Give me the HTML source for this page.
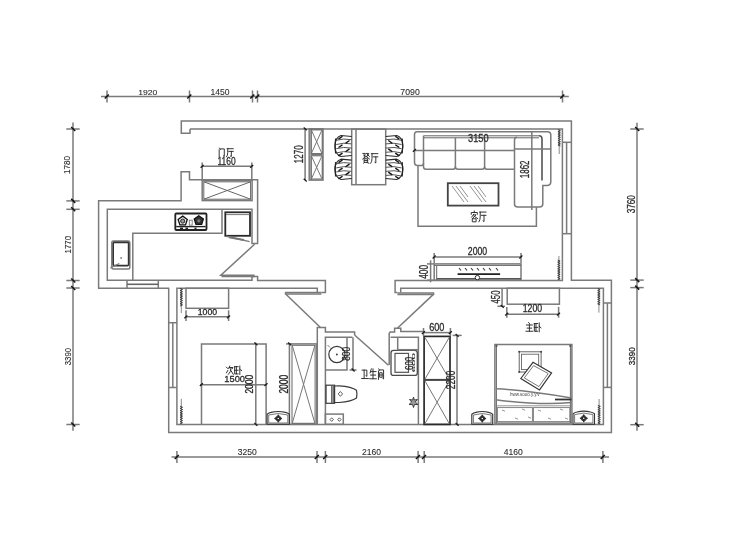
<!DOCTYPE html>
<html><head><meta charset="utf-8"><style>
html,body{margin:0;padding:0;background:#fff;}
body{width:740px;height:555px;overflow:hidden;position:relative;}
svg{position:absolute;left:0;top:0;filter:grayscale(1);}
text{font-family:"Liberation Sans",sans-serif;}
</style></head><body>
<svg width="740" height="555" viewBox="0 0 740 555">
<rect x="0" y="0" width="740" height="555" fill="#fff"/>
<line x1="101" y1="96.5" x2="568.8" y2="96.5" stroke="#7a7a7a" stroke-width="1.5"/>
<line x1="107" y1="90.5" x2="107" y2="102.5" stroke="#7a7a7a" stroke-width="1.5"/>
<line x1="104.8" y1="98.5" x2="108.8" y2="94.5" stroke="#111" stroke-width="1.5"/>
<line x1="189.5" y1="90.5" x2="189.5" y2="102.5" stroke="#7a7a7a" stroke-width="1.5"/>
<line x1="187.3" y1="98.5" x2="191.3" y2="94.5" stroke="#111" stroke-width="1.5"/>
<line x1="252.5" y1="90.5" x2="252.5" y2="102.5" stroke="#7a7a7a" stroke-width="1.5"/>
<line x1="250.3" y1="98.5" x2="254.3" y2="94.5" stroke="#111" stroke-width="1.5"/>
<line x1="257.5" y1="90.5" x2="257.5" y2="102.5" stroke="#7a7a7a" stroke-width="1.5"/>
<line x1="255.3" y1="98.5" x2="259.3" y2="94.5" stroke="#111" stroke-width="1.5"/>
<line x1="562.5" y1="90.5" x2="562.5" y2="102.5" stroke="#7a7a7a" stroke-width="1.5"/>
<line x1="560.3" y1="98.5" x2="564.3" y2="94.5" stroke="#111" stroke-width="1.5"/>
<line x1="73" y1="122.6" x2="73" y2="430.8" stroke="#7a7a7a" stroke-width="1.5"/>
<line x1="66.3" y1="129" x2="79.7" y2="129" stroke="#7a7a7a" stroke-width="1.5"/>
<line x1="71.2" y1="127.0" x2="75.2" y2="131.0" stroke="#111" stroke-width="1.5"/>
<line x1="66.3" y1="200.9" x2="79.7" y2="200.9" stroke="#7a7a7a" stroke-width="1.5"/>
<line x1="71.2" y1="198.9" x2="75.2" y2="202.9" stroke="#111" stroke-width="1.5"/>
<line x1="66.3" y1="209.3" x2="79.7" y2="209.3" stroke="#7a7a7a" stroke-width="1.5"/>
<line x1="71.2" y1="207.3" x2="75.2" y2="211.3" stroke="#111" stroke-width="1.5"/>
<line x1="66.3" y1="280.5" x2="79.7" y2="280.5" stroke="#7a7a7a" stroke-width="1.5"/>
<line x1="71.2" y1="278.5" x2="75.2" y2="282.5" stroke="#111" stroke-width="1.5"/>
<line x1="66.3" y1="288" x2="79.7" y2="288" stroke="#7a7a7a" stroke-width="1.5"/>
<line x1="71.2" y1="286.0" x2="75.2" y2="290.0" stroke="#111" stroke-width="1.5"/>
<line x1="66.3" y1="424.5" x2="79.7" y2="424.5" stroke="#7a7a7a" stroke-width="1.5"/>
<line x1="71.2" y1="422.5" x2="75.2" y2="426.5" stroke="#111" stroke-width="1.5"/>
<line x1="637" y1="122.8" x2="637" y2="430.8" stroke="#7a7a7a" stroke-width="1.5"/>
<line x1="630.3" y1="129" x2="643.7" y2="129" stroke="#7a7a7a" stroke-width="1.5"/>
<line x1="635.2" y1="127.0" x2="639.2" y2="131.0" stroke="#111" stroke-width="1.5"/>
<line x1="630.3" y1="280.1" x2="643.7" y2="280.1" stroke="#7a7a7a" stroke-width="1.5"/>
<line x1="635.2" y1="278.1" x2="639.2" y2="282.1" stroke="#111" stroke-width="1.5"/>
<line x1="630.3" y1="287.6" x2="643.7" y2="287.6" stroke="#7a7a7a" stroke-width="1.5"/>
<line x1="635.2" y1="285.6" x2="639.2" y2="289.6" stroke="#111" stroke-width="1.5"/>
<line x1="630.3" y1="424.7" x2="643.7" y2="424.7" stroke="#7a7a7a" stroke-width="1.5"/>
<line x1="635.2" y1="422.7" x2="639.2" y2="426.7" stroke="#111" stroke-width="1.5"/>
<line x1="171.5" y1="457" x2="609" y2="457" stroke="#7a7a7a" stroke-width="1.5"/>
<line x1="176.9" y1="451" x2="176.9" y2="463" stroke="#7a7a7a" stroke-width="1.5"/>
<line x1="174.70000000000002" y1="459.0" x2="178.70000000000002" y2="455.0" stroke="#111" stroke-width="1.5"/>
<line x1="317" y1="451" x2="317" y2="463" stroke="#7a7a7a" stroke-width="1.5"/>
<line x1="314.8" y1="459.0" x2="318.8" y2="455.0" stroke="#111" stroke-width="1.5"/>
<line x1="325.4" y1="451" x2="325.4" y2="463" stroke="#7a7a7a" stroke-width="1.5"/>
<line x1="323.2" y1="459.0" x2="327.2" y2="455.0" stroke="#111" stroke-width="1.5"/>
<line x1="418.1" y1="451" x2="418.1" y2="463" stroke="#7a7a7a" stroke-width="1.5"/>
<line x1="415.90000000000003" y1="459.0" x2="419.90000000000003" y2="455.0" stroke="#111" stroke-width="1.5"/>
<line x1="424.2" y1="451" x2="424.2" y2="463" stroke="#7a7a7a" stroke-width="1.5"/>
<line x1="422.0" y1="459.0" x2="426.0" y2="455.0" stroke="#111" stroke-width="1.5"/>
<line x1="602.9" y1="451" x2="602.9" y2="463" stroke="#7a7a7a" stroke-width="1.5"/>
<line x1="600.6999999999999" y1="459.0" x2="604.6999999999999" y2="455.0" stroke="#111" stroke-width="1.5"/>
<text transform="translate(138.90,94.90) scale(1.071,1)" x="-0.61" y="0" font-size="8.05" fill="#2a2a2a" stroke="#2a2a2a" stroke-width="0.08" font-weight="normal">1920</text>
<text transform="translate(211.10,95.10) scale(1.012,1)" x="-0.64" y="0" font-size="8.47" fill="#2a2a2a" stroke="#2a2a2a" stroke-width="0.08" font-weight="normal">1450</text>
<text transform="translate(400.80,95.10) scale(1.029,1)" x="-0.43" y="0" font-size="8.47" fill="#2a2a2a" stroke="#2a2a2a" stroke-width="0.08" font-weight="normal">7090</text>
<text transform="translate(70.40,173.30) rotate(-90) scale(0.941,1)" x="-0.65" y="0" font-size="8.62" fill="#2a2a2a" stroke="#2a2a2a" stroke-width="0.08" font-weight="normal">1780</text>
<text transform="translate(70.50,252.90) rotate(-90) scale(0.889,1)" x="-0.68" y="0" font-size="8.90" fill="#2a2a2a" stroke="#2a2a2a" stroke-width="0.08" font-weight="normal">1770</text>
<text transform="translate(70.50,364.90) rotate(-90) scale(0.821,1)" x="-0.36" y="0" font-size="9.46" fill="#2a2a2a" stroke="#2a2a2a" stroke-width="0.08" font-weight="normal">3390</text>
<text transform="translate(635.20,213.00) rotate(-90) scale(0.795,1)" x="-0.39" y="0" font-size="10.31" fill="#2a2a2a" stroke="#2a2a2a" stroke-width="0.3" font-weight="normal">3760</text>
<text transform="translate(634.80,364.90) rotate(-90) scale(0.827,1)" x="-0.37" y="0" font-size="9.75" fill="#2a2a2a" stroke="#2a2a2a" stroke-width="0.3" font-weight="normal">3390</text>
<text transform="translate(238.10,455.40) scale(1.029,1)" x="-0.32" y="0" font-size="8.33" fill="#2a2a2a" stroke="#2a2a2a" stroke-width="0.08" font-weight="normal">3250</text>
<text transform="translate(362.30,455.40) scale(0.934,1)" x="-0.46" y="0" font-size="9.18" fill="#2a2a2a" stroke="#2a2a2a" stroke-width="0.08" font-weight="normal">2160</text>
<text transform="translate(503.90,455.40) scale(0.964,1)" x="-0.20" y="0" font-size="8.90" fill="#2a2a2a" stroke="#2a2a2a" stroke-width="0.08" font-weight="normal">4160</text>
<path d="M190,129 V133.3 H181.3 V120.9 H571.4 V280.2 H611.4 V432.4 H168.7 V288.2 H98.6 V200.8 H181.1 V171.8 H189.5 V179.8 H257.6 V243.5 H252 V209.3 H107.3 V280.3 H252 V276.6 H257.6 V280.5 H325.4 V292.6 H321.4" stroke="#7a7a7a" stroke-width="1.5" fill="none" />
<path d="M190,129 H562.4 V280.4 H395.1 V292.5 H397.4" stroke="#7a7a7a" stroke-width="1.5" fill="none" />
<path d="M400.7,292.5 V288.3 H603.4 V424.5 H176.9 V288.3 H317.3 V292.6" stroke="#7a7a7a" stroke-width="1.5" fill="none" />
<line x1="127" y1="280.3" x2="127" y2="288.2" stroke="#7a7a7a" stroke-width="1.5"/>
<line x1="158.3" y1="280.3" x2="158.3" y2="288.2" stroke="#7a7a7a" stroke-width="1.5"/>
<line x1="127" y1="284.3" x2="158.3" y2="284.3" stroke="#666" stroke-width="1.6"/>
<line x1="168.7" y1="322.7" x2="176.9" y2="322.7" stroke="#7a7a7a" stroke-width="1.5"/>
<line x1="168.7" y1="387.5" x2="176.9" y2="387.5" stroke="#7a7a7a" stroke-width="1.5"/>
<line x1="172.8" y1="322.7" x2="172.8" y2="387.5" stroke="#7a7a7a" stroke-width="1.5"/>
<line x1="562.4" y1="142.3" x2="571.4" y2="142.3" stroke="#7a7a7a" stroke-width="1.5"/>
<line x1="562.4" y1="233.7" x2="571.4" y2="233.7" stroke="#7a7a7a" stroke-width="1.5"/>
<line x1="566.6" y1="142.3" x2="566.6" y2="233.7" stroke="#7a7a7a" stroke-width="1.5"/>
<line x1="603.4" y1="303" x2="611.4" y2="303" stroke="#7a7a7a" stroke-width="1.5"/>
<line x1="603.4" y1="387.4" x2="611.4" y2="387.4" stroke="#7a7a7a" stroke-width="1.5"/>
<line x1="607.4" y1="303" x2="607.4" y2="387.4" stroke="#7a7a7a" stroke-width="1.5"/>
<path d="M317.3,424.5 V327.6 H325.4 V331.9 H354.6 V335" stroke="#7a7a7a" stroke-width="1.5" fill="none" />
<path d="M325.4,424.5 V337.3 H352.4" stroke="#7a7a7a" stroke-width="1.5" fill="none" />
<path d="M389.2,365 V333.5 L390.2,331.9 H394.6 V328.2 H400.8 V331.6 H424.5" stroke="#7a7a7a" stroke-width="1.5" fill="none" />
<path d="M390.6,337.3 H418.4 V424.5" stroke="#7a7a7a" stroke-width="1.5" fill="none" />
<line x1="397.7" y1="337.3" x2="397.7" y2="349.7" stroke="#7a7a7a" stroke-width="1.5"/>
<path d="M254.6,244.2 L220.8,275.3 H254.6" stroke="#7a7a7a" stroke-width="1.5" fill="none" />
<line x1="221.5" y1="276.4" x2="254.6" y2="276.4" stroke="#7a7a7a" stroke-width="1.5"/>
<path d="M284.9,293.3 L320.2,327.2" stroke="#7a7a7a" stroke-width="1.5" fill="none" />
<line x1="284.9" y1="292.6" x2="321.4" y2="292.6" stroke="#7a7a7a" stroke-width="1.5"/>
<line x1="285.5" y1="294" x2="321.4" y2="294" stroke="#7a7a7a" stroke-width="1.5"/>
<path d="M434.2,293.6 L397.4,328.2" stroke="#7a7a7a" stroke-width="1.5" fill="none" />
<line x1="397.4" y1="293" x2="434.2" y2="293" stroke="#7a7a7a" stroke-width="1.5"/>
<line x1="397.4" y1="294.5" x2="433.5" y2="294.5" stroke="#7a7a7a" stroke-width="1.5"/>
<path d="M354.6,335 L388.5,365.3" stroke="#7a7a7a" stroke-width="1.5" fill="none" />
<line x1="559.2" y1="129.2" x2="559.2" y2="154" stroke="#7a7a7a" stroke-width="0.9"/>
<polyline points="557.95,129.60 560.45,130.70 557.95,131.80 560.45,132.90 557.95,134.00 560.45,135.10 557.95,136.20 560.45,137.30 557.95,138.40 560.45,139.50 557.95,140.60 560.45,141.70 557.95,142.80 560.45,143.90 557.95,145.00 560.45,146.10" stroke="#333" stroke-width="0.9" fill="none"/>
<line x1="181.3" y1="288.4" x2="181.3" y2="313" stroke="#7a7a7a" stroke-width="0.9"/>
<polyline points="180.05,288.40 182.55,289.50 180.05,290.60 182.55,291.70 180.05,292.80 182.55,293.90 180.05,295.00 182.55,296.10 180.05,297.20 182.55,298.30 180.05,299.40 182.55,300.50 180.05,301.60 182.55,302.70 180.05,303.80 182.55,304.90 180.05,306.00" stroke="#333" stroke-width="0.9" fill="none"/>
<line x1="181.3" y1="398.8" x2="181.3" y2="423.8" stroke="#7a7a7a" stroke-width="0.9"/>
<polyline points="180.05,406.20 182.55,407.30 180.05,408.40 182.55,409.50 180.05,410.60 182.55,411.70 180.05,412.80 182.55,413.90 180.05,415.00 182.55,416.10 180.05,417.20 182.55,418.30 180.05,419.40 182.55,420.50 180.05,421.60 182.55,422.70 180.05,423.80" stroke="#333" stroke-width="0.9" fill="none"/>
<line x1="558.9" y1="256" x2="558.9" y2="280" stroke="#7a7a7a" stroke-width="0.9"/>
<polyline points="557.65,260.00 560.15,261.10 557.65,262.20 560.15,263.30 557.65,264.40 560.15,265.50 557.65,266.60 560.15,267.70 557.65,268.80 560.15,269.90 557.65,271.00 560.15,272.10 557.65,273.20 560.15,274.30 557.65,275.40 560.15,276.50 557.65,277.60 560.15,278.70 557.65,279.80" stroke="#333" stroke-width="0.9" fill="none"/>
<line x1="598.9" y1="288.4" x2="598.9" y2="312.6" stroke="#7a7a7a" stroke-width="0.9"/>
<polyline points="597.65,288.40 600.15,289.50 597.65,290.60 600.15,291.70 597.65,292.80 600.15,293.90 597.65,295.00 600.15,296.10 597.65,297.20 600.15,298.30 597.65,299.40 600.15,300.50 597.65,301.60 600.15,302.70 597.65,303.80 600.15,304.90" stroke="#333" stroke-width="0.9" fill="none"/>
<line x1="599.1" y1="399" x2="599.1" y2="424.2" stroke="#7a7a7a" stroke-width="0.9"/>
<polyline points="597.85,405.30 600.35,406.40 597.85,407.50 600.35,408.60 597.85,409.70 600.35,410.80 597.85,411.90 600.35,413.00 597.85,414.10 600.35,415.20 597.85,416.30 600.35,417.40 597.85,418.50 600.35,419.60 597.85,420.70 600.35,421.80 597.85,422.90 600.35,424.00" stroke="#333" stroke-width="0.9" fill="none"/>
<rect x="202.2" y="180.4" width="49.9" height="20.2" rx="0" stroke="#7a7a7a" stroke-width="1.5" fill="none"/>
<rect x="203.8" y="181.8" width="46.8" height="17.4" rx="0" stroke="#666" stroke-width="1" fill="none"/>
<line x1="203.8" y1="181.8" x2="250.6" y2="199.2" stroke="#666" stroke-width="1"/>
<line x1="250.6" y1="181.8" x2="203.8" y2="199.2" stroke="#666" stroke-width="1"/>
<line x1="202.2" y1="166.3" x2="251.8" y2="166.3" stroke="#7a7a7a" stroke-width="1.5"/>
<line x1="202.2" y1="162.5" x2="202.2" y2="180.4" stroke="#7a7a7a" stroke-width="1.5"/>
<line x1="251.8" y1="162.5" x2="251.8" y2="180.4" stroke="#7a7a7a" stroke-width="1.5"/>
<line x1="200.6" y1="167.70000000000002" x2="203.6" y2="164.9" stroke="#1a1a1a" stroke-width="1.3"/>
<line x1="250.20000000000002" y1="167.70000000000002" x2="253.20000000000002" y2="164.9" stroke="#1a1a1a" stroke-width="1.3"/>
<text transform="translate(218.10,164.90) scale(0.756,1)" x="-0.85" y="0" font-size="11.16" fill="#2a2a2a" stroke="#2a2a2a" stroke-width="0.3" font-weight="normal">1160</text>
<path transform="translate(218.10,147.80) scale(0.720,0.900)" d="M2,0.3 L3.2,1.8 M1.5,2.2 V10 M3.8,1.2 H8.6 V9.6 L7.4,9" stroke="#2a2a2a" stroke-width="0.95" fill="none" vector-effect="non-scaling-stroke" stroke-linecap="square"/>
<path transform="translate(226.30,147.80) scale(0.720,0.900)" d="M1.2,1 H9.6 M2,1 V5.5 Q2,8.5 0.4,10 M3.6,4 H9.6 M7,4 V9.8 L5.8,9.2" stroke="#2a2a2a" stroke-width="0.95" fill="none" vector-effect="non-scaling-stroke" stroke-linecap="square"/>
<path d="M132.8,280.3 V233.2 H222 V209.3" stroke="#7a7a7a" stroke-width="1.5" fill="none" />
<rect x="111.8" y="241" width="18.0" height="27.9" rx="1.5" stroke="#7a7a7a" stroke-width="1.5" fill="none"/>
<rect x="113.2" y="242.4" width="15.4" height="23.2" rx="1" stroke="#333" stroke-width="1.6" fill="none"/>
<circle cx="121.1" cy="258" r="0.9" fill="#7a7a7a"/>
<line x1="110.3" y1="268" x2="119.3" y2="263.5" stroke="#7a7a7a" stroke-width="1.3"/>
<rect x="175.3" y="213.5" width="31.2" height="16.5" rx="1" stroke="#222" stroke-width="1.8" fill="none"/>
<polygon points="182.70,216.10 187.27,219.42 185.52,224.78 179.88,224.78 178.13,219.42" stroke="#111" stroke-width="1.3" fill="#fff"/>
<circle cx="182.7" cy="221.1" r="2.1" stroke="#222" stroke-width="1" fill="#999"/>
<polygon points="198.80,215.70 203.37,219.02 201.62,224.38 195.98,224.38 194.23,219.02" stroke="#111" stroke-width="1.3" fill="#333"/>
<circle cx="198.8" cy="220.8" r="1.6" fill="#777"/>
<rect x="189.3" y="220.2" width="2.9" height="4.9" rx="0" stroke="#7a7a7a" stroke-width="0.9" fill="none"/>
<line x1="176.2" y1="226.6" x2="205.6" y2="226.6" stroke="#222" stroke-width="1.4"/>
<line x1="180" y1="228.4" x2="183" y2="228.4" stroke="#222" stroke-width="1.6"/>
<line x1="185.5" y1="228.4" x2="188" y2="228.4" stroke="#222" stroke-width="1.6"/>
<line x1="194.5" y1="228.4" x2="196.5" y2="228.4" stroke="#222" stroke-width="1.6"/>
<rect x="225.3" y="212.3" width="24.7" height="23.5" rx="0" stroke="#2a2a2a" stroke-width="1.8" fill="none"/>
<line x1="226" y1="214.6" x2="249.3" y2="214.6" stroke="#7a7a7a" stroke-width="1"/>
<path d="M226.3,236.2 L249.6,241.6" stroke="#7a7a7a" stroke-width="1.4" fill="none" />
<path d="M229,237.2 L244,240" stroke="#777" stroke-width="2" fill="none" />
<rect x="309.2" y="128.8" width="13.8" height="51.3" rx="0" stroke="#7a7a7a" stroke-width="1.5" fill="none"/>
<line x1="311.1" y1="128.8" x2="311.1" y2="180.1" stroke="#666" stroke-width="1"/>
<rect x="311.1" y="129.9" width="11.1" height="23.7" rx="0" stroke="#666" stroke-width="1" fill="none"/>
<rect x="311.1" y="155.8" width="11.1" height="23.2" rx="0" stroke="#666" stroke-width="1" fill="none"/>
<line x1="311.1" y1="154.7" x2="322.2" y2="154.7" stroke="#777" stroke-width="1.8"/>
<line x1="311.5" y1="130.3" x2="321.8" y2="153.2" stroke="#777" stroke-width="1"/>
<line x1="321.8" y1="130.3" x2="311.5" y2="153.2" stroke="#777" stroke-width="1"/>
<line x1="311.5" y1="156.2" x2="321.8" y2="178.6" stroke="#777" stroke-width="1"/>
<line x1="321.8" y1="156.2" x2="311.5" y2="178.6" stroke="#777" stroke-width="1"/>
<line x1="305.1" y1="128.2" x2="305.1" y2="180.1" stroke="#7a7a7a" stroke-width="1.5"/>
<line x1="303.70000000000005" y1="127.4" x2="306.70000000000005" y2="130.20000000000002" stroke="#1a1a1a" stroke-width="1.3"/>
<line x1="303.70000000000005" y1="178.7" x2="306.70000000000005" y2="181.5" stroke="#1a1a1a" stroke-width="1.3"/>
<text transform="translate(302.90,162.70) rotate(-90) scale(0.667,1)" x="-0.92" y="0" font-size="12.15" fill="#2a2a2a" stroke="#2a2a2a" stroke-width="0.3" font-weight="normal">1270</text>
<rect x="351.7" y="129.1" width="34.0" height="55.6" rx="0" stroke="#7a7a7a" stroke-width="1.5" fill="none"/>
<line x1="356" y1="129.1" x2="356" y2="184.7" stroke="#7a7a7a" stroke-width="1.5"/>
<path transform="translate(362.30,152.60) scale(0.760,1.060)" d="M0.8,0.8 H4 L2.6,3.8 M1.8,2.4 L3.6,3.2 M5.6,0.8 H8.6 L6.2,3.6 M6.2,1.4 L9.4,3.6 M5,3.6 L0.6,6 M5,3.6 L9.4,6 M3,5.8 H7 V9.2 H3 Z M3,7.4 H7 M3,9.2 L1.6,10 M5.6,9.2 L8.6,10" stroke="#2a2a2a" stroke-width="0.95" fill="none" vector-effect="non-scaling-stroke" stroke-linecap="square"/>
<path transform="translate(370.50,152.60) scale(0.760,1.060)" d="M1.2,1 H9.6 M2,1 V5.5 Q2,8.5 0.4,10 M3.6,4 H9.6 M7,4 V9.8 L5.8,9.2" stroke="#2a2a2a" stroke-width="0.95" fill="none" vector-effect="non-scaling-stroke" stroke-linecap="square"/>
<path d="M351.7,136.5 L341.0,135.5 Q335.0,137.5 335.0,146.0 Q335.0,154.5 341.0,156.5 L351.7,155.5" stroke="#2a2a2a" stroke-width="1.2" fill="none"/>
<path d="M336.2,140.29999999999998 Q343.35,138.1 351.7,139.7" stroke="#555" stroke-width="1" fill="none"/>
<path d="M336.2,144.5 Q343.35,142.3 351.7,143.9" stroke="#555" stroke-width="1" fill="none"/>
<path d="M336.2,148.7 Q343.35,146.5 351.7,148.1" stroke="#555" stroke-width="1" fill="none"/>
<path d="M336.2,152.9 Q343.35,150.70000000000002 351.7,152.3" stroke="#555" stroke-width="1" fill="none"/>
<path d="M342.5,136.3 L338.5,139.1" stroke="#111" stroke-width="1.4"/>
<path d="M349.5,140.5 L345.5,143.3" stroke="#111" stroke-width="1.4"/>
<path d="M342.5,144.70000000000002 L338.5,147.5" stroke="#111" stroke-width="1.4"/>
<path d="M349.5,148.9 L345.5,151.70000000000002" stroke="#111" stroke-width="1.4"/>
<path d="M342.5,153.10000000000002 L338.5,155.9" stroke="#111" stroke-width="1.4"/>
<path d="M335.6,138.5 Q334.6,146.0 335.6,153.5" stroke="#222" stroke-width="1.2" fill="none"/>
<path d="M351.7,160.2 L341.0,159.2 Q335.0,161.2 335.0,169.35 Q335.0,177.5 341.0,179.5 L351.7,178.5" stroke="#2a2a2a" stroke-width="1.2" fill="none"/>
<path d="M336.2,163.85999999999999 Q343.35,161.66 351.7,163.26" stroke="#555" stroke-width="1" fill="none"/>
<path d="M336.2,167.92 Q343.35,165.72 351.7,167.32" stroke="#555" stroke-width="1" fill="none"/>
<path d="M336.2,171.98 Q343.35,169.78 351.7,171.38" stroke="#555" stroke-width="1" fill="none"/>
<path d="M336.2,176.04 Q343.35,173.84 351.7,175.44" stroke="#555" stroke-width="1" fill="none"/>
<path d="M342.5,160.0 L338.5,162.66" stroke="#111" stroke-width="1.4"/>
<path d="M349.5,164.06 L345.5,166.72" stroke="#111" stroke-width="1.4"/>
<path d="M342.5,168.12 L338.5,170.78" stroke="#111" stroke-width="1.4"/>
<path d="M349.5,172.18 L345.5,174.84" stroke="#111" stroke-width="1.4"/>
<path d="M342.5,176.24 L338.5,178.9" stroke="#111" stroke-width="1.4"/>
<path d="M335.6,162.2 Q334.6,169.35 335.6,176.5" stroke="#222" stroke-width="1.2" fill="none"/>
<path d="M385.7,136.5 L396.8,135.5 Q402.8,137.5 402.8,146.0 Q402.8,154.5 396.8,156.5 L385.7,155.5" stroke="#2a2a2a" stroke-width="1.2" fill="none"/>
<path d="M401.6,140.29999999999998 Q394.25,138.1 385.7,139.7" stroke="#555" stroke-width="1" fill="none"/>
<path d="M401.6,144.5 Q394.25,142.3 385.7,143.9" stroke="#555" stroke-width="1" fill="none"/>
<path d="M401.6,148.7 Q394.25,146.5 385.7,148.1" stroke="#555" stroke-width="1" fill="none"/>
<path d="M401.6,152.9 Q394.25,150.70000000000002 385.7,152.3" stroke="#555" stroke-width="1" fill="none"/>
<path d="M395.3,136.3 L399.3,139.1" stroke="#111" stroke-width="1.4"/>
<path d="M388.3,140.5 L392.3,143.3" stroke="#111" stroke-width="1.4"/>
<path d="M395.3,144.70000000000002 L399.3,147.5" stroke="#111" stroke-width="1.4"/>
<path d="M388.3,148.9 L392.3,151.70000000000002" stroke="#111" stroke-width="1.4"/>
<path d="M395.3,153.10000000000002 L399.3,155.9" stroke="#111" stroke-width="1.4"/>
<path d="M402.2,138.5 Q403.2,146.0 402.2,153.5" stroke="#222" stroke-width="1.2" fill="none"/>
<path d="M385.7,160.2 L396.8,159.2 Q402.8,161.2 402.8,169.35 Q402.8,177.5 396.8,179.5 L385.7,178.5" stroke="#2a2a2a" stroke-width="1.2" fill="none"/>
<path d="M401.6,163.85999999999999 Q394.25,161.66 385.7,163.26" stroke="#555" stroke-width="1" fill="none"/>
<path d="M401.6,167.92 Q394.25,165.72 385.7,167.32" stroke="#555" stroke-width="1" fill="none"/>
<path d="M401.6,171.98 Q394.25,169.78 385.7,171.38" stroke="#555" stroke-width="1" fill="none"/>
<path d="M401.6,176.04 Q394.25,173.84 385.7,175.44" stroke="#555" stroke-width="1" fill="none"/>
<path d="M395.3,160.0 L399.3,162.66" stroke="#111" stroke-width="1.4"/>
<path d="M388.3,164.06 L392.3,166.72" stroke="#111" stroke-width="1.4"/>
<path d="M395.3,168.12 L399.3,170.78" stroke="#111" stroke-width="1.4"/>
<path d="M388.3,172.18 L392.3,174.84" stroke="#111" stroke-width="1.4"/>
<path d="M395.3,176.24 L399.3,178.9" stroke="#111" stroke-width="1.4"/>
<path d="M402.2,162.2 Q403.2,169.35 402.2,176.5" stroke="#222" stroke-width="1.2" fill="none"/>
<path d="M417,131.7 H547.4 Q550.8,131.7 550.8,135 V181.5 Q550.8,185.5 547,185.5 H542.8 V204 Q542.8,207 539.5,207 H517.8 Q514.5,207 514.5,204 V169.3" stroke="#7a7a7a" stroke-width="1.5" fill="none" />
<path d="M417,131.7 Q414.5,131.7 414.5,134.5 V162.5 Q414.5,165.5 417.5,165.5 H421.9 Q423.5,165.5 423.5,163" stroke="#7a7a7a" stroke-width="1.5" fill="none" />
<line x1="423.5" y1="135.8" x2="539" y2="135.8" stroke="#666" stroke-width="1"/>
<line x1="423.5" y1="137.8" x2="539" y2="137.8" stroke="#666" stroke-width="1"/>
<path d="M423.5,135.8 V166.5 Q423.5,169.3 426,169.3 H453 Q455.4,169.3 455.4,166.5 V137.8" stroke="#7a7a7a" stroke-width="1.5" fill="none" />
<path d="M455.4,166.5 Q455.4,169.3 458,169.3 H482 Q484.6,169.3 484.6,166.5 V137.8" stroke="#7a7a7a" stroke-width="1.5" fill="none" />
<path d="M484.6,166.5 Q484.6,169.3 487,169.3 H514.5" stroke="#7a7a7a" stroke-width="1.5" fill="none" />
<path d="M514.5,169.3 V140 Q514.5,137.3 517,137.3" stroke="#7a7a7a" stroke-width="1.5" fill="none" />
<path d="M539,135.8 Q542,135.8 542,139 V180.5" stroke="#555" stroke-width="1.6" fill="none" />
<line x1="514.5" y1="148.9" x2="551.2" y2="148.9" stroke="#7a7a7a" stroke-width="1.5"/>
<line x1="414.5" y1="150.4" x2="514.5" y2="150.4" stroke="#7a7a7a" stroke-width="1.5"/>
<line x1="412.9" y1="151.8" x2="415.9" y2="149.0" stroke="#1a1a1a" stroke-width="1.3"/>
<line x1="531.8" y1="131.1" x2="531.8" y2="210" stroke="#7a7a7a" stroke-width="1.5"/>
<text transform="translate(468.40,142.30) scale(0.804,1)" x="-0.43" y="0" font-size="11.44" fill="#2a2a2a" stroke="#2a2a2a" stroke-width="0.3" font-weight="normal">3150</text>
<text transform="translate(529.40,177.60) rotate(-90) scale(0.626,1)" x="-0.97" y="0" font-size="12.71" fill="#2a2a2a" stroke="#2a2a2a" stroke-width="0.3" font-weight="normal">1862</text>
<rect x="447.8" y="183.2" width="50.7" height="22.4" rx="0" stroke="#444" stroke-width="1.8" fill="none"/>
<line x1="452" y1="186" x2="464" y2="202" stroke="#7a7a7a" stroke-width="0.8"/>
<line x1="456" y1="186" x2="468" y2="202" stroke="#7a7a7a" stroke-width="0.8"/>
<line x1="470" y1="186" x2="482" y2="202" stroke="#7a7a7a" stroke-width="0.8"/>
<line x1="474" y1="186" x2="486" y2="202" stroke="#7a7a7a" stroke-width="0.8"/>
<line x1="460" y1="186" x2="468" y2="197" stroke="#7a7a7a" stroke-width="0.8"/>
<line x1="478" y1="186" x2="486" y2="197" stroke="#7a7a7a" stroke-width="0.8"/>
<path d="M418,165.5 V226.2 H536.4 V207" stroke="#7a7a7a" stroke-width="1.5" fill="none" />
<path transform="translate(470.50,211.00) scale(0.760,1.080)" d="M5,0 V1.2 M1,3 V1.4 H9 V3 M4.2,3 L1.6,5.6 M4,3.6 H7.4 L2.4,7 M4.6,4.8 L9.4,7 M3,7.2 H7.4 V10 H3 Z" stroke="#2a2a2a" stroke-width="0.95" fill="none" vector-effect="non-scaling-stroke" stroke-linecap="square"/>
<path transform="translate(478.70,211.00) scale(0.760,1.080)" d="M1.2,1 H9.6 M2,1 V5.5 Q2,8.5 0.4,10 M3.6,4 H9.6 M7,4 V9.8 L5.8,9.2" stroke="#2a2a2a" stroke-width="0.95" fill="none" vector-effect="non-scaling-stroke" stroke-linecap="square"/>
<rect x="434.2" y="263.9" width="86.8" height="16.3" rx="0" stroke="#7a7a7a" stroke-width="1.5" fill="none"/>
<line x1="436.7" y1="265.4" x2="436.7" y2="280.2" stroke="#666" stroke-width="1"/>
<line x1="434.2" y1="265.4" x2="521" y2="265.4" stroke="#666" stroke-width="1"/>
<line x1="436.7" y1="278.8" x2="521" y2="278.8" stroke="#555" stroke-width="1.6"/>
<line x1="457.6" y1="274.1" x2="500.1" y2="274.1" stroke="#222" stroke-width="1.8"/>
<line x1="459" y1="268" x2="461" y2="270.5" stroke="#333" stroke-width="1.1"/>
<line x1="465" y1="268" x2="467" y2="270.5" stroke="#333" stroke-width="1.1"/>
<line x1="471" y1="268" x2="473" y2="270.5" stroke="#333" stroke-width="1.1"/>
<line x1="477" y1="268" x2="479" y2="270.5" stroke="#333" stroke-width="1.1"/>
<line x1="483" y1="268" x2="485" y2="270.5" stroke="#333" stroke-width="1.1"/>
<line x1="489" y1="268" x2="491" y2="270.5" stroke="#333" stroke-width="1.1"/>
<line x1="496" y1="268" x2="498" y2="270.5" stroke="#333" stroke-width="1.1"/>
<circle cx="477.4" cy="277.6" r="2.2" stroke="#333" stroke-width="1" fill="#fff"/>
<line x1="434.2" y1="257" x2="521" y2="257" stroke="#7a7a7a" stroke-width="1.5"/>
<line x1="434.2" y1="253" x2="434.2" y2="263" stroke="#7a7a7a" stroke-width="1.5"/>
<line x1="521" y1="253" x2="521" y2="263" stroke="#7a7a7a" stroke-width="1.5"/>
<line x1="432.59999999999997" y1="258.4" x2="435.59999999999997" y2="255.6" stroke="#1a1a1a" stroke-width="1.3"/>
<line x1="519.4" y1="258.4" x2="522.4" y2="255.6" stroke="#1a1a1a" stroke-width="1.3"/>
<text transform="translate(468.20,255.10) scale(0.817,1)" x="-0.54" y="0" font-size="10.73" fill="#2a2a2a" stroke="#2a2a2a" stroke-width="0.3" font-weight="normal">2000</text>
<line x1="430.6" y1="260.3" x2="430.6" y2="282.3" stroke="#7a7a7a" stroke-width="1.5"/>
<line x1="427" y1="263.9" x2="434" y2="263.9" stroke="#7a7a7a" stroke-width="1.5"/>
<line x1="427" y1="280.2" x2="434" y2="280.2" stroke="#7a7a7a" stroke-width="1.5"/>
<text transform="translate(428.10,278.60) rotate(-90) scale(0.706,1)" x="-0.27" y="0" font-size="11.86" fill="#2a2a2a" stroke="#2a2a2a" stroke-width="0.3" font-weight="normal">400</text>
<rect x="186" y="288.3" width="42.6" height="20.0" rx="0" stroke="#7a7a7a" stroke-width="1.5" fill="none"/>
<line x1="185.4" y1="316.8" x2="229.2" y2="316.8" stroke="#7a7a7a" stroke-width="1.5"/>
<line x1="186" y1="310.3" x2="186" y2="321" stroke="#7a7a7a" stroke-width="1.5"/>
<line x1="228.6" y1="310.3" x2="228.6" y2="321" stroke="#7a7a7a" stroke-width="1.5"/>
<line x1="184.4" y1="318.2" x2="187.4" y2="315.40000000000003" stroke="#1a1a1a" stroke-width="1.3"/>
<line x1="227.0" y1="318.2" x2="230.0" y2="315.40000000000003" stroke="#1a1a1a" stroke-width="1.3"/>
<text transform="translate(198.40,314.60) scale(0.882,1)" x="-0.75" y="0" font-size="9.89" fill="#2a2a2a" stroke="#2a2a2a" stroke-width="0.3" font-weight="normal">1000</text>
<path d="M201.5,424.5 V343.9 H266.1 V424.5" stroke="#7a7a7a" stroke-width="1.5" fill="none" />
<line x1="200.1" y1="384.7" x2="266.9" y2="384.7" stroke="#7a7a7a" stroke-width="1.5"/>
<line x1="199.9" y1="386.09999999999997" x2="202.9" y2="383.3" stroke="#1a1a1a" stroke-width="1.3"/>
<line x1="264.5" y1="386.09999999999997" x2="267.5" y2="383.3" stroke="#1a1a1a" stroke-width="1.3"/>
<line x1="255.8" y1="342.7" x2="255.8" y2="424.9" stroke="#7a7a7a" stroke-width="1.5"/>
<line x1="254.4" y1="342.5" x2="257.40000000000003" y2="345.29999999999995" stroke="#1a1a1a" stroke-width="1.3"/>
<line x1="254.4" y1="422.90000000000003" x2="257.40000000000003" y2="425.7" stroke="#1a1a1a" stroke-width="1.3"/>
<path transform="translate(225.80,365.80) scale(0.780,0.860)" d="M0.8,1.6 L2.2,3 M0.8,8.2 L2.6,5.4 M5,0.4 L3.8,3.2 M4.4,2 H9.2 L8,3.6 M6.6,3 Q6.6,7.4 3.4,10 M6.6,5.6 L9.6,10" stroke="#2a2a2a" stroke-width="0.95" fill="none" vector-effect="non-scaling-stroke" stroke-linecap="square"/>
<path transform="translate(234.20,365.80) scale(0.780,0.860)" d="M0.6,1 H5 M0.6,1 V9.4 H5 M0.6,5.2 H5 M2.8,1 V9.4 M7.2,0.3 V10 M7.2,4 L9.6,5.6" stroke="#2a2a2a" stroke-width="0.95" fill="none" vector-effect="non-scaling-stroke" stroke-linecap="square"/>
<text transform="translate(225.00,382.10) scale(0.958,1)" x="-0.74" y="0" font-size="9.75" fill="#2a2a2a" stroke="#2a2a2a" stroke-width="0.3" font-weight="normal">1500</text>
<text transform="translate(253.20,393.20) rotate(-90) scale(0.784,1)" x="-0.54" y="0" font-size="10.88" fill="#2a2a2a" stroke="#2a2a2a" stroke-width="0.3" font-weight="normal">2000</text>
<rect x="289.4" y="343.9" width="27.4" height="80.4" rx="0" stroke="#7a7a7a" stroke-width="1.5" fill="none"/>
<rect x="292" y="345.3" width="23.1" height="78.0" rx="0" stroke="#666" stroke-width="1" fill="none"/>
<line x1="292.3" y1="345.6" x2="314.8" y2="423" stroke="#777" stroke-width="1"/>
<line x1="314.8" y1="345.6" x2="292.3" y2="423" stroke="#777" stroke-width="1"/>
<line x1="286" y1="343.9" x2="292" y2="343.9" stroke="#7a7a7a" stroke-width="1.5"/>
<line x1="288.0" y1="342.5" x2="291.0" y2="345.29999999999995" stroke="#1a1a1a" stroke-width="1.3"/>
<text transform="translate(287.70,393.20) rotate(-90) scale(0.702,1)" x="-0.61" y="0" font-size="12.15" fill="#2a2a2a" stroke="#2a2a2a" stroke-width="0.3" font-weight="normal">2000</text>
<path d="M267.1,424.2 V414.2 Q269.1,412.7 271.1,412.4 Q278.25,410.59999999999997 285.4,412.4 Q287.4,412.7 289.4,414.2 V424.2 Z" stroke="#333" stroke-width="1.1" fill="none" />
<path d="M268.70000000000005,423.0 V415.0 Q278.25,412.0 287.79999999999995,415.0 V423.0 Z" stroke="#555" stroke-width="0.8" fill="none" />
<path d="M278.25,414.7 L279.45,417.3 L282.05,418.5 L279.45,419.7 L278.25,422.3 L277.05,419.7 L274.45,418.5 L277.05,417.3 Z" fill="#222" stroke="#222" stroke-width="0.8"/>
<circle cx="278.25" cy="418.5" r="2.6" fill="none" stroke="#333" stroke-width="0.8"/>
<circle cx="278.25" cy="418.5" r="0.8" fill="#fff"/>
<path d="M471.8,424.2 V414.2 Q473.8,412.7 475.8,412.4 Q482.25,410.59999999999997 488.7,412.4 Q490.7,412.7 492.7,414.2 V424.2 Z" stroke="#333" stroke-width="1.1" fill="none" />
<path d="M473.40000000000003,423.0 V415.0 Q482.25,412.0 491.09999999999997,415.0 V423.0 Z" stroke="#555" stroke-width="0.8" fill="none" />
<path d="M482.25,414.7 L483.45,417.3 L486.05,418.5 L483.45,419.7 L482.25,422.3 L481.05,419.7 L478.45,418.5 L481.05,417.3 Z" fill="#222" stroke="#222" stroke-width="0.8"/>
<circle cx="482.25" cy="418.5" r="2.6" fill="none" stroke="#333" stroke-width="0.8"/>
<circle cx="482.25" cy="418.5" r="0.8" fill="#fff"/>
<path d="M573,424.2 V413.8 Q575,412.3 577,412.0 Q583.75,410.2 590.5,412.0 Q592.5,412.3 594.5,413.8 V424.2 Z" stroke="#333" stroke-width="1.1" fill="none" />
<path d="M574.6,423.0 V414.6 Q583.75,411.6 592.9,414.6 V423.0 Z" stroke="#555" stroke-width="0.8" fill="none" />
<path d="M583.75,414.5 L584.95,417.1 L587.55,418.3 L584.95,419.5 L583.75,422.1 L582.55,419.5 L579.95,418.3 L582.55,417.1 Z" fill="#222" stroke="#222" stroke-width="0.8"/>
<circle cx="583.75" cy="418.3" r="2.6" fill="none" stroke="#333" stroke-width="0.8"/>
<circle cx="583.75" cy="418.3" r="0.8" fill="#fff"/>
<path d="M325.4,370 H347 V337.3" stroke="#7a7a7a" stroke-width="1.5" fill="none" />
<circle cx="336.9" cy="354.5" r="8.1" stroke="#3a3a3a" stroke-width="1.2" fill="none"/>
<circle cx="336.9" cy="354.5" r="0.9" fill="#333"/>
<line x1="327.5" y1="345" x2="330" y2="347.5" stroke="#7a7a7a" stroke-width="1"/>
<line x1="353" y1="337.3" x2="353" y2="370" stroke="#7a7a7a" stroke-width="1.5"/>
<line x1="349.5" y1="370" x2="356.5" y2="370" stroke="#7a7a7a" stroke-width="1.5"/>
<line x1="351.6" y1="368.6" x2="354.6" y2="371.4" stroke="#1a1a1a" stroke-width="1.3"/>
<text transform="translate(350.20,360.50) rotate(-90) scale(0.727,1)" x="-0.49" y="0" font-size="11.44" fill="#2a2a2a" stroke="#2a2a2a" stroke-width="0.3" font-weight="normal">800</text>
<path transform="translate(361.40,368.60) scale(0.720,1.080)" d="M1,1.4 H7.6 V7.2 L6.4,6.6 M3.8,1.4 V8.6 M0.4,9.2 H9.6" stroke="#2a2a2a" stroke-width="0.95" fill="none" vector-effect="non-scaling-stroke" stroke-linecap="square"/>
<path transform="translate(369.40,368.60) scale(0.720,1.080)" d="M2.6,0.3 L1,4 M1.6,2.8 H9.2 M5,0.3 V9.4 M1.8,6 H8.6 M0.4,9.4 H9.6" stroke="#2a2a2a" stroke-width="0.95" fill="none" vector-effect="non-scaling-stroke" stroke-linecap="square"/>
<path transform="translate(377.40,368.60) scale(0.720,1.080)" d="M2,0.3 L3.2,1.8 M1.5,2.2 V10 M3.8,1.2 H8.6 V9.6 L7.4,9 M3.8,3.8 H6.6 V8 H3.8 Z M3.8,5.9 H6.6" stroke="#2a2a2a" stroke-width="0.95" fill="none" vector-effect="non-scaling-stroke" stroke-linecap="square"/>
<rect x="326" y="385.2" width="8.6" height="18.1" rx="0" stroke="#3a3a3a" stroke-width="1.2" fill="none"/>
<line x1="331.7" y1="385.6" x2="331.7" y2="403" stroke="#555" stroke-width="1.1"/>
<line x1="333.2" y1="385.6" x2="333.2" y2="403" stroke="#555" stroke-width="1.3"/>
<path d="M334.6,386 L339,385.9 Q352,386.8 356.5,390.3 Q357.4,393.8 356.5,398 Q352,401.4 339,402.5 L334.6,402.5" stroke="#3a3a3a" stroke-width="1.2" fill="none" />
<path d="M340.4,391.5 L342.6,393.9 L340.4,396.3 L338.2,393.9 Z" stroke="#333" stroke-width="0.8" fill="none"/>
<rect x="325.4" y="414.1" width="17.9" height="10.2" rx="0" stroke="#7a7a7a" stroke-width="1.5" fill="none"/>
<path d="M331.7,417.8 L333.4,419.6 L331.7,421.4 L330,419.6 Z M339.4,417.8 L341.1,419.6 L339.4,421.4 L337.7,419.6 Z" stroke="#333" stroke-width="0.8" fill="none"/>
<rect x="391" y="350.4" width="26.3" height="25.0" rx="2.5" stroke="#4a4a4a" stroke-width="1.3" fill="none"/>
<rect x="395" y="353.4" width="13.5" height="18.9" rx="0" stroke="#555" stroke-width="1.2" fill="none"/>
<line x1="397.7" y1="349.7" x2="418.4" y2="349.7" stroke="#7a7a7a" stroke-width="1.5"/>
<text transform="translate(412.90,369.60) rotate(-90) scale(0.694,1)" x="-0.58" y="0" font-size="11.44" fill="#2a2a2a" stroke="#2a2a2a" stroke-width="0.3" font-weight="normal">600</text>
<text transform="translate(414.80,371.80) rotate(-90) scale(3.257,1)" x="-0.18" y="0" font-size="3.53" fill="#2a2a2a" stroke="#2a2a2a" stroke-width="0.08" font-weight="normal">600</text>
<path d="M413.5,397 L414.3,400 L417.5,399.5 L415.3,402 L418,404.5 L414.5,404.5 L413.5,407.5 L412.5,404.5 L409,404.5 L411.7,402 L409.5,399.5 L412.7,400 Z" stroke="#333" stroke-width="0.9" fill="#999"/>
<rect x="507.2" y="288.3" width="52.2" height="15.9" rx="0" stroke="#7a7a7a" stroke-width="1.5" fill="none"/>
<line x1="506.8" y1="314.2" x2="558.6" y2="314.2" stroke="#7a7a7a" stroke-width="1.5"/>
<line x1="506.8" y1="306.9" x2="506.8" y2="317.7" stroke="#7a7a7a" stroke-width="1.5"/>
<line x1="558.6" y1="306.9" x2="558.6" y2="317.7" stroke="#7a7a7a" stroke-width="1.5"/>
<line x1="505.2" y1="315.59999999999997" x2="508.2" y2="312.8" stroke="#1a1a1a" stroke-width="1.3"/>
<line x1="557.0" y1="315.59999999999997" x2="560.0" y2="312.8" stroke="#1a1a1a" stroke-width="1.3"/>
<text transform="translate(523.40,311.80) scale(0.812,1)" x="-0.82" y="0" font-size="10.73" fill="#2a2a2a" stroke="#2a2a2a" stroke-width="0.3" font-weight="normal">1200</text>
<line x1="502.1" y1="288.3" x2="502.1" y2="306.3" stroke="#7a7a7a" stroke-width="1.5"/>
<line x1="497.4" y1="306.3" x2="505" y2="306.3" stroke="#7a7a7a" stroke-width="1.5"/>
<line x1="500.70000000000005" y1="304.90000000000003" x2="503.70000000000005" y2="307.7" stroke="#1a1a1a" stroke-width="1.3"/>
<text transform="translate(499.90,303.30) rotate(-90) scale(0.608,1)" x="-0.30" y="0" font-size="12.85" fill="#2a2a2a" stroke="#2a2a2a" stroke-width="0.3" font-weight="normal">450</text>
<path transform="translate(525.70,322.60) scale(0.740,0.920)" d="M3.8,0 L5.6,1.4 M1,2.6 H9 M5,2.6 V9.4 M2,6 H8 M0.4,9.4 H9.6" stroke="#2a2a2a" stroke-width="0.95" fill="none" vector-effect="non-scaling-stroke" stroke-linecap="square"/>
<path transform="translate(533.90,322.60) scale(0.740,0.920)" d="M0.6,1 H5 M0.6,1 V9.4 H5 M0.6,5.2 H5 M2.8,1 V9.4 M7.2,0.3 V10 M7.2,4 L9.6,5.6" stroke="#2a2a2a" stroke-width="0.95" fill="none" vector-effect="non-scaling-stroke" stroke-linecap="square"/>
<rect x="424.1" y="336.4" width="25.9" height="88.0" rx="0" stroke="#2a2a2a" stroke-width="1.7" fill="none"/>
<line x1="424.1" y1="379.9" x2="450" y2="379.9" stroke="#444" stroke-width="2"/>
<line x1="425" y1="337.5" x2="449.2" y2="379" stroke="#777" stroke-width="1"/>
<line x1="449.2" y1="337.5" x2="425" y2="379" stroke="#777" stroke-width="1"/>
<line x1="425" y1="381" x2="449.2" y2="423.5" stroke="#777" stroke-width="1"/>
<line x1="449.2" y1="381" x2="425" y2="423.5" stroke="#777" stroke-width="1"/>
<line x1="423" y1="332.6" x2="450.6" y2="332.6" stroke="#7a7a7a" stroke-width="1.5"/>
<line x1="423.5" y1="328" x2="423.5" y2="336" stroke="#7a7a7a" stroke-width="1.5"/>
<line x1="450.4" y1="328" x2="450.4" y2="336" stroke="#7a7a7a" stroke-width="1.5"/>
<line x1="421.9" y1="334.0" x2="424.9" y2="331.20000000000005" stroke="#1a1a1a" stroke-width="1.3"/>
<line x1="448.79999999999995" y1="334.0" x2="451.79999999999995" y2="331.20000000000005" stroke="#1a1a1a" stroke-width="1.3"/>
<text transform="translate(429.60,330.60) scale(0.879,1)" x="-0.53" y="0" font-size="10.45" fill="#2a2a2a" stroke="#2a2a2a" stroke-width="0.3" font-weight="normal">600</text>
<line x1="457" y1="335.4" x2="457" y2="424.4" stroke="#7a7a7a" stroke-width="1.5"/>
<line x1="452.7" y1="335.4" x2="461.7" y2="335.4" stroke="#7a7a7a" stroke-width="1.5"/>
<line x1="455.6" y1="334.0" x2="458.6" y2="336.79999999999995" stroke="#1a1a1a" stroke-width="1.3"/>
<line x1="455.6" y1="423.0" x2="458.6" y2="425.79999999999995" stroke="#1a1a1a" stroke-width="1.3"/>
<text transform="translate(455.10,388.80) rotate(-90) scale(0.642,1)" x="-0.65" y="0" font-size="12.99" fill="#2a2a2a" stroke="#2a2a2a" stroke-width="0.3" font-weight="normal">2200</text>
<rect x="494.9" y="344.5" width="77.0" height="78.6" rx="0" stroke="#7a7a7a" stroke-width="1.5" fill="none"/>
<line x1="496.4" y1="344.5" x2="496.4" y2="423.1" stroke="#666" stroke-width="1"/>
<line x1="570.4" y1="344.5" x2="570.4" y2="423.1" stroke="#666" stroke-width="1"/>
<circle cx="496.5" cy="346" r="1.1" fill="#555"/><circle cx="570.3" cy="346" r="1.1" fill="#555"/>
<rect x="519.2" y="351.8" width="21.9" height="20.2" rx="0" stroke="#555" stroke-width="0.9" fill="none"/>
<rect x="521.6" y="354.2" width="17.1" height="15.4" rx="0" stroke="#555" stroke-width="0.8" fill="none"/>
<circle cx="519.2" cy="351.8" r="1" fill="#444"/>
<circle cx="541.1" cy="351.8" r="1" fill="#444"/>
<circle cx="519.2" cy="372" r="1" fill="#444"/>
<circle cx="541.1" cy="372" r="1" fill="#444"/>
<path d="M533,362.3 L551.6,372.9 L539.5,389.9 L520.8,378.5 Z" stroke="#333" stroke-width="1.1" fill="#fff"/>
<path d="M533.6,365.6 L548.2,373.6 L538.9,386.6 L524.3,377.9 Z" stroke="#555" stroke-width="0.8" fill="none"/>
<path d="M495.7,388.8 Q525,390 571.5,398" stroke="#7a7a7a" stroke-width="1.5" fill="none" />
<path d="M495.7,399.8 Q540,405.5 571.5,402.6" stroke="#7a7a7a" stroke-width="1.5" fill="none" />
<line x1="555" y1="399.5" x2="571.5" y2="399.5" stroke="#333" stroke-width="1.8"/>
<line x1="495.7" y1="405.8" x2="571.5" y2="405.8" stroke="#7a7a7a" stroke-width="0.8"/>
<text x="510" y="395.6" font-size="4.5" fill="#444" font-family="Liberation Sans" transform="scale(1,1)">hww.sooo.y.y.v</text>
<rect x="497.4" y="407.6" width="35.0" height="14.0" rx="0" stroke="#7a7a7a" stroke-width="0.9" fill="none"/>
<rect x="533.4" y="407.6" width="36.4" height="14.0" rx="0" stroke="#7a7a7a" stroke-width="0.9" fill="none"/>
<line x1="502" y1="410" x2="505" y2="411.2" stroke="#7a7a7a" stroke-width="0.8"/>
<line x1="522" y1="409" x2="525" y2="410.2" stroke="#7a7a7a" stroke-width="0.8"/>
<line x1="515" y1="418" x2="518" y2="419.2" stroke="#7a7a7a" stroke-width="0.8"/>
<line x1="538" y1="410" x2="541" y2="411.2" stroke="#7a7a7a" stroke-width="0.8"/>
<line x1="560" y1="409" x2="563" y2="410.2" stroke="#7a7a7a" stroke-width="0.8"/>
<line x1="548" y1="418" x2="551" y2="419.2" stroke="#7a7a7a" stroke-width="0.8"/>
<line x1="528" y1="417" x2="531" y2="418.2" stroke="#7a7a7a" stroke-width="0.8"/>
<line x1="565" y1="418" x2="568" y2="419.2" stroke="#7a7a7a" stroke-width="0.8"/>
</svg>
</body></html>
